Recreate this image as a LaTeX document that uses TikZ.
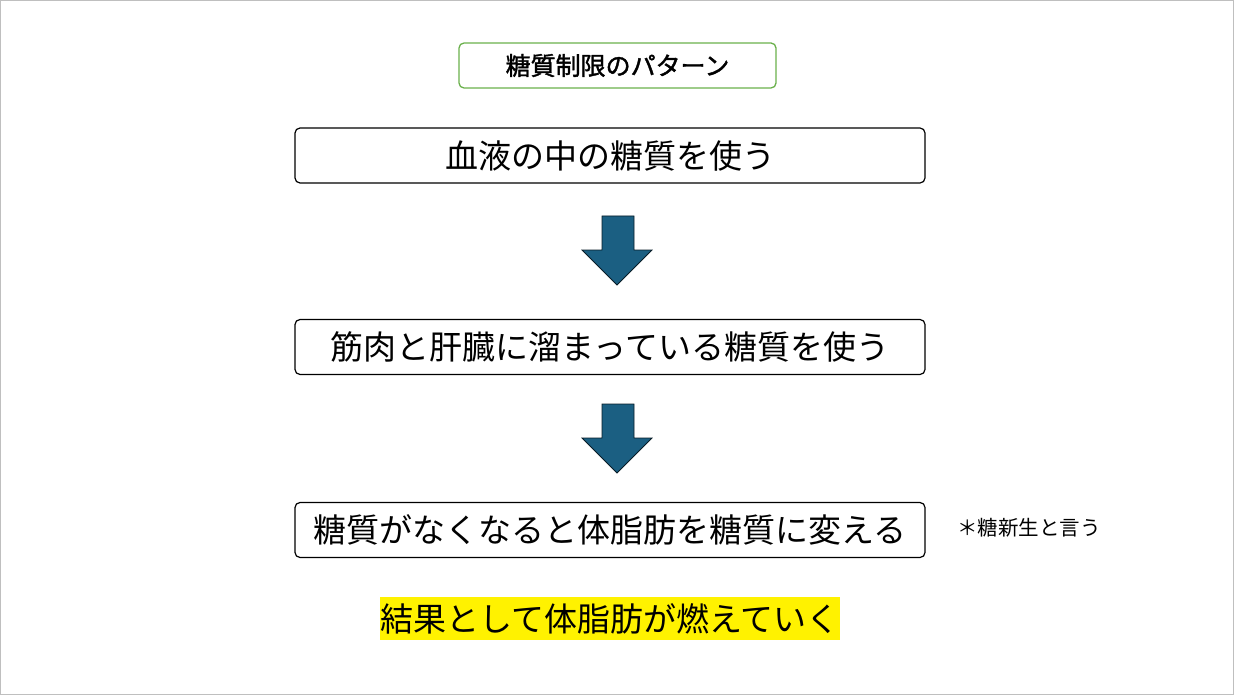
\documentclass[tikz,border=0pt]{standalone}
\usepackage{fontspec}
\setmainfont{Noto Sans CJK JP}
\newfontfamily\jpb[FakeBold=1.5]{Noto Sans CJK JP}
\definecolor{arr}{HTML}{1B5F82}
\definecolor{grn}{HTML}{6AB04C}
\tikzset{x=1pt,y=-1pt,
 box/.style={draw=black,line width=1.2pt,rounded corners=5pt,minimum width=630pt,minimum height=55pt,font=\fontsize{33}{35}\selectfont,inner sep=0pt},
 darr/.style={fill=arr,draw=black!70!arr,line width=0.8pt}}
\begin{document}
\begin{tikzpicture}
\useasboundingbox (0,0) rectangle (1234,695);
\draw[gray!50,line width=1pt] (0.5,0.5) rectangle (1233.5,694.5);
\node[draw=grn,line width=1.3pt,rounded corners=5pt,minimum width=317pt,minimum height=45pt,font=\jpb\fontsize{25}{27}\selectfont,inner sep=0pt] (t) at (617.5,65.5) {糖質制限のパターン};
\node[box] (b1) at (610,155.5) {血液の中の糖質を使う};
\node[box] (b2) at (610,347) {筋肉と肝臓に溜まっている糖質を使う};
\node[box] (b3) at (610,530) {糖質がなくなると体脂肪を糖質に変える};
\draw[darr] (602,216)--(634,216)--(634,250)--(652,250)--(617,285)--(582,250)--(602,250)--cycle;
\draw[darr] (602,404)--(634,404)--(634,438)--(652,438)--(617,473)--(582,438)--(602,438)--cycle;
\node[font=\fontsize{20.5}{22}\selectfont,anchor=west,inner sep=0pt] (n) at (957,528) {＊糖新生と言う};
\node[fill=yellow,minimum width=460pt,minimum height=43pt,font=\fontsize{33}{35}\selectfont,inner sep=0pt] (r) at (610,618.5) {結果として体脂肪が燃えていく};
\end{tikzpicture}
\end{document}
